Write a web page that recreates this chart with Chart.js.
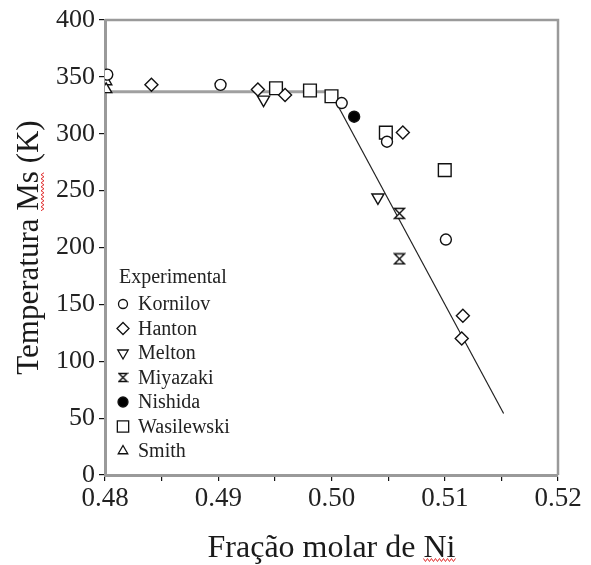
<!DOCTYPE html>
<html>
<head>
<meta charset="utf-8">
<script src="https://cdn.jsdelivr.net/npm/chart.js@4/dist/chart.umd.min.js"></script>
<style>
  html, body { margin: 0; padding: 0; background: #fff; }
  #wrap { width: 591px; height: 565px; position: relative; }
</style>
</head>
<body>
<div id="wrap"><canvas id="ms-chart" width="591" height="565"></canvas></div>
<script>
// data (x = fraction Ni, y = Ms in K)
const kornilovNi = [0.4802, 0.4902, 0.5009, 0.5049, 0.5101];
const kornilovMs = [352, 343, 327, 293, 207];
const hantonNi = [0.4841, 0.4935, 0.4959, 0.5063, 0.5116, 0.5115];
const hantonMs = [343, 339, 334, 301, 140, 120];
const meltonNi = [0.4940, 0.5041];
const meltonMs = [330, 244];
const miyazakiNi = [0.5060, 0.5060];
const miyazakiMs = [230, 190];
const nishidaNi = [0.5020];
const nishidaMs = [315];
const wasilewskiNi = [0.4951, 0.4981, 0.5000, 0.5048, 0.5100];
const wasilewskiMs = [340, 338, 333, 301, 268];
const smithNi = [0.4801, 0.4801];
const smithMs = [346, 339];

// fitted lines
const plateauNi = [0.48, 0.4999];
const plateauMs = [337, 337];
const slopeNi = [0.4999, 0.5152];
const slopeMs = [337, 54];

const yTicks = [0, 50, 100, 150, 200, 250, 300, 350, 400];

const serif = "'Liberation Serif', 'Times New Roman', serif";
const xTitleSize = 32;
const yTitleSize = 31;

function pts(xs, ys) {
  return xs.map((x, i) => ({ x: x, y: ys[i] }));
}

// hourglass marker for Miyazaki
function hourglass(size) {
  const c = document.createElement("canvas");
  c.width = size;
  c.height = size;
  const g = c.getContext("2d");
  const m = 1.5, s = size - 1.5;
  g.beginPath();
  g.moveTo(m, m);
  g.lineTo(s, m);
  g.lineTo(m, s);
  g.lineTo(s, s);
  g.closePath();
  g.fillStyle = "#fff";
  g.fill();
  g.strokeStyle = "#111";
  g.lineWidth = 1.4;
  g.stroke();
  return c;
}

const hgBig = hourglass(13);
const hgSmall = hourglass(11);

function series(label, xs, ys, style, radius, rotation, fill) {
  return {
    label: label,
    data: pts(xs, ys),
    pointStyle: style,
    pointRadius: radius,
    pointRotation: rotation || 0,
    pointBorderWidth: 1.4,
    borderColor: "#111",
    backgroundColor: fill || "#fff",
    showLine: false,
    order: 0,
  };
}

const markerSets = [
  series("Kornilov", kornilovNi, kornilovMs, "circle", 5.5),
  series("Hanton", hantonNi, hantonMs, "rectRot", 6.5),
  series("Melton", meltonNi, meltonMs, "triangle", 7, 180),
  series("Miyazaki", miyazakiNi, miyazakiMs, hgBig, 7),
  series("Nishida", nishidaNi, nishidaMs, "circle", 5.5, 0, "#000"),
  series("Wasilewski", wasilewskiNi, wasilewskiMs, "rect", 9),
  series("Smith", smithNi, smithMs, "triangle", 6.5),
];

// small legend icons
const legendIcons = [
  { style: "circle", radius: 4.5, rotation: 0, fill: "#fff" },
  { style: "rectRot", radius: 6, rotation: 0, fill: "#fff" },
  { style: "triangle", radius: 6, rotation: 180, fill: "#fff" },
  { style: hgSmall, radius: 6, rotation: 0, fill: "#fff" },
  { style: "circle", radius: 5, rotation: 0, fill: "#000" },
  { style: "rect", radius: 8, rotation: 0, fill: "#fff" },
  { style: "triangle", radius: 5.5, rotation: 0, fill: "#fff" },
];

const frameAndLegend = {
  id: "frameAndLegend",
  beforeDatasetsDraw(chart) {
    const { ctx, chartArea } = chart;
    ctx.save();
    ctx.strokeStyle = "#9a9a9a";
    ctx.lineWidth = 2.5;
    ctx.beginPath();
    ctx.moveTo(chartArea.left, chartArea.top);
    ctx.lineTo(chartArea.right, chartArea.top);
    ctx.lineTo(chartArea.right, chartArea.bottom);
    ctx.stroke();
    ctx.restore();
  },
  afterDatasetsDraw(chart) {
    const { ctx, chartArea } = chart;
    ctx.save();
    ctx.font = "20px " + serif;
    ctx.fillStyle = "#222";
    ctx.textBaseline = "middle";
    const x0 = chartArea.left + 14;
    let y = chartArea.bottom - 197;
    ctx.fillText("Experimental", x0, y);
    markerSets.forEach((ds, i) => {
      y = chartArea.bottom - 171 + i * 24.5;
      const ic = legendIcons[i];
      ctx.fillStyle = ic.fill;
      ctx.strokeStyle = "#111";
      ctx.lineWidth = 1.3;
      Chart.helpers.drawPoint(ctx, {
        pointStyle: ic.style,
        radius: ic.radius,
        rotation: ic.rotation,
        borderWidth: 1.3,
      }, chartArea.left + 18, y);
      ctx.fillStyle = "#222";
      ctx.fillText(ds.label, chartArea.left + 33, y + 1);
    });
    ctx.restore();
  },
  afterDraw(chart) {
    // red spell-check squiggles under "Ms" and "Ni"
    const { ctx, chartArea } = chart;
    ctx.save();
    ctx.strokeStyle = "#e03030";
    ctx.lineWidth = 1;

    ctx.font = xTitleSize + "px " + serif;
    const xt = "Fração molar de Ni";
    const xw = ctx.measureText(xt).width;
    const xs0 = (chartArea.left + chartArea.right) / 2 - xw / 2 + ctx.measureText("Fração molar de ").width;
    const xs1 = (chartArea.left + chartArea.right) / 2 + xw / 2;
    ctx.beginPath();
    for (let x = xs0, k = 0; x <= xs1; x += 2, k++) {
      const yy = 560 + (k % 2 ? 1.5 : -1.5);
      if (k === 0) ctx.moveTo(x, yy); else ctx.lineTo(x, yy);
    }
    ctx.stroke();

    ctx.font = yTitleSize + "px " + serif;
    const yt = "Temperatura Ms (K)";
    const yw = ctx.measureText(yt).width;
    const cy = (chartArea.top + chartArea.bottom) / 2;
    const ys0 = cy + yw / 2 - ctx.measureText("Temperatura ").width;
    const ys1 = ys0 - ctx.measureText("Ms").width;
    ctx.beginPath();
    for (let yv = ys0, k = 0; yv >= ys1; yv -= 2, k++) {
      const xx = 42.5 + (k % 2 ? 1.5 : -1.5);
      if (k === 0) ctx.moveTo(xx, yv); else ctx.lineTo(xx, yv);
    }
    ctx.stroke();
    ctx.restore();
  },
};

const ctx = document.getElementById("ms-chart");

new Chart(ctx, {
  type: "scatter",
  data: {
    datasets: markerSets.concat([
      {
        label: "plateau",
        data: pts(plateauNi, plateauMs),
        showLine: true,
        borderColor: "#a0a0a0",
        borderWidth: 3,
        pointRadius: 0,
        order: 2,
      },
      {
        label: "slope",
        data: pts(slopeNi, slopeMs),
        showLine: true,
        borderColor: "#222",
        borderWidth: 1.2,
        pointRadius: 0,
        order: 1,
      },
    ]),
  },
  options: {
    responsive: false,
    animation: false,
    layout: { padding: { top: 20, right: 33, left: 0, bottom: 0 } },
    plugins: {
      legend: { display: false },
      tooltip: { enabled: false },
    },
    scales: {
      x: {
        type: "linear",
        min: 0.48,
        max: 0.52,
        afterFit: (s) => { s.height = 90; },
        ticks: {
          stepSize: 0.005,
          autoSkip: false,
          maxRotation: 0,
          padding: 2,
          color: "#222",
          font: { family: serif, size: 27 },
          callback: (v) => (Math.round(v * 1000) % 10 === 0 ? v.toFixed(2) : ""),
        },
        grid: { drawOnChartArea: false, color: "#111", tickLength: 6, lineWidth: 1.2 },
        border: { color: "#9a9a9a", width: 3 },
        title: {
          display: true,
          text: "Fração molar de Ni",
          color: "#1a1a1a",
          font: { family: serif, size: xTitleSize, lineHeight: 1 },
          padding: { top: 0, bottom: 0 },
        },
      },
      y: {
        min: 0,
        max: 400,
        afterFit: (s) => { s.width = 105; },
        afterBuildTicks: (s) => { s.ticks = yTicks.map((v) => ({ value: v })); },
        ticks: {
          padding: 4,
          color: "#222",
          font: { family: serif, size: 26 },
        },
        grid: { drawOnChartArea: false, color: "#111", tickLength: 6, lineWidth: 1.2 },
        border: { color: "#9a9a9a", width: 3 },
        title: {
          display: true,
          text: "Temperatura Ms (K)",
          color: "#1a1a1a",
          font: { family: serif, size: yTitleSize, lineHeight: 1 },
          padding: { top: 14, bottom: 0 },
        },
      },
    },
  },
  plugins: [frameAndLegend],
});
</script>
</body>
</html>
